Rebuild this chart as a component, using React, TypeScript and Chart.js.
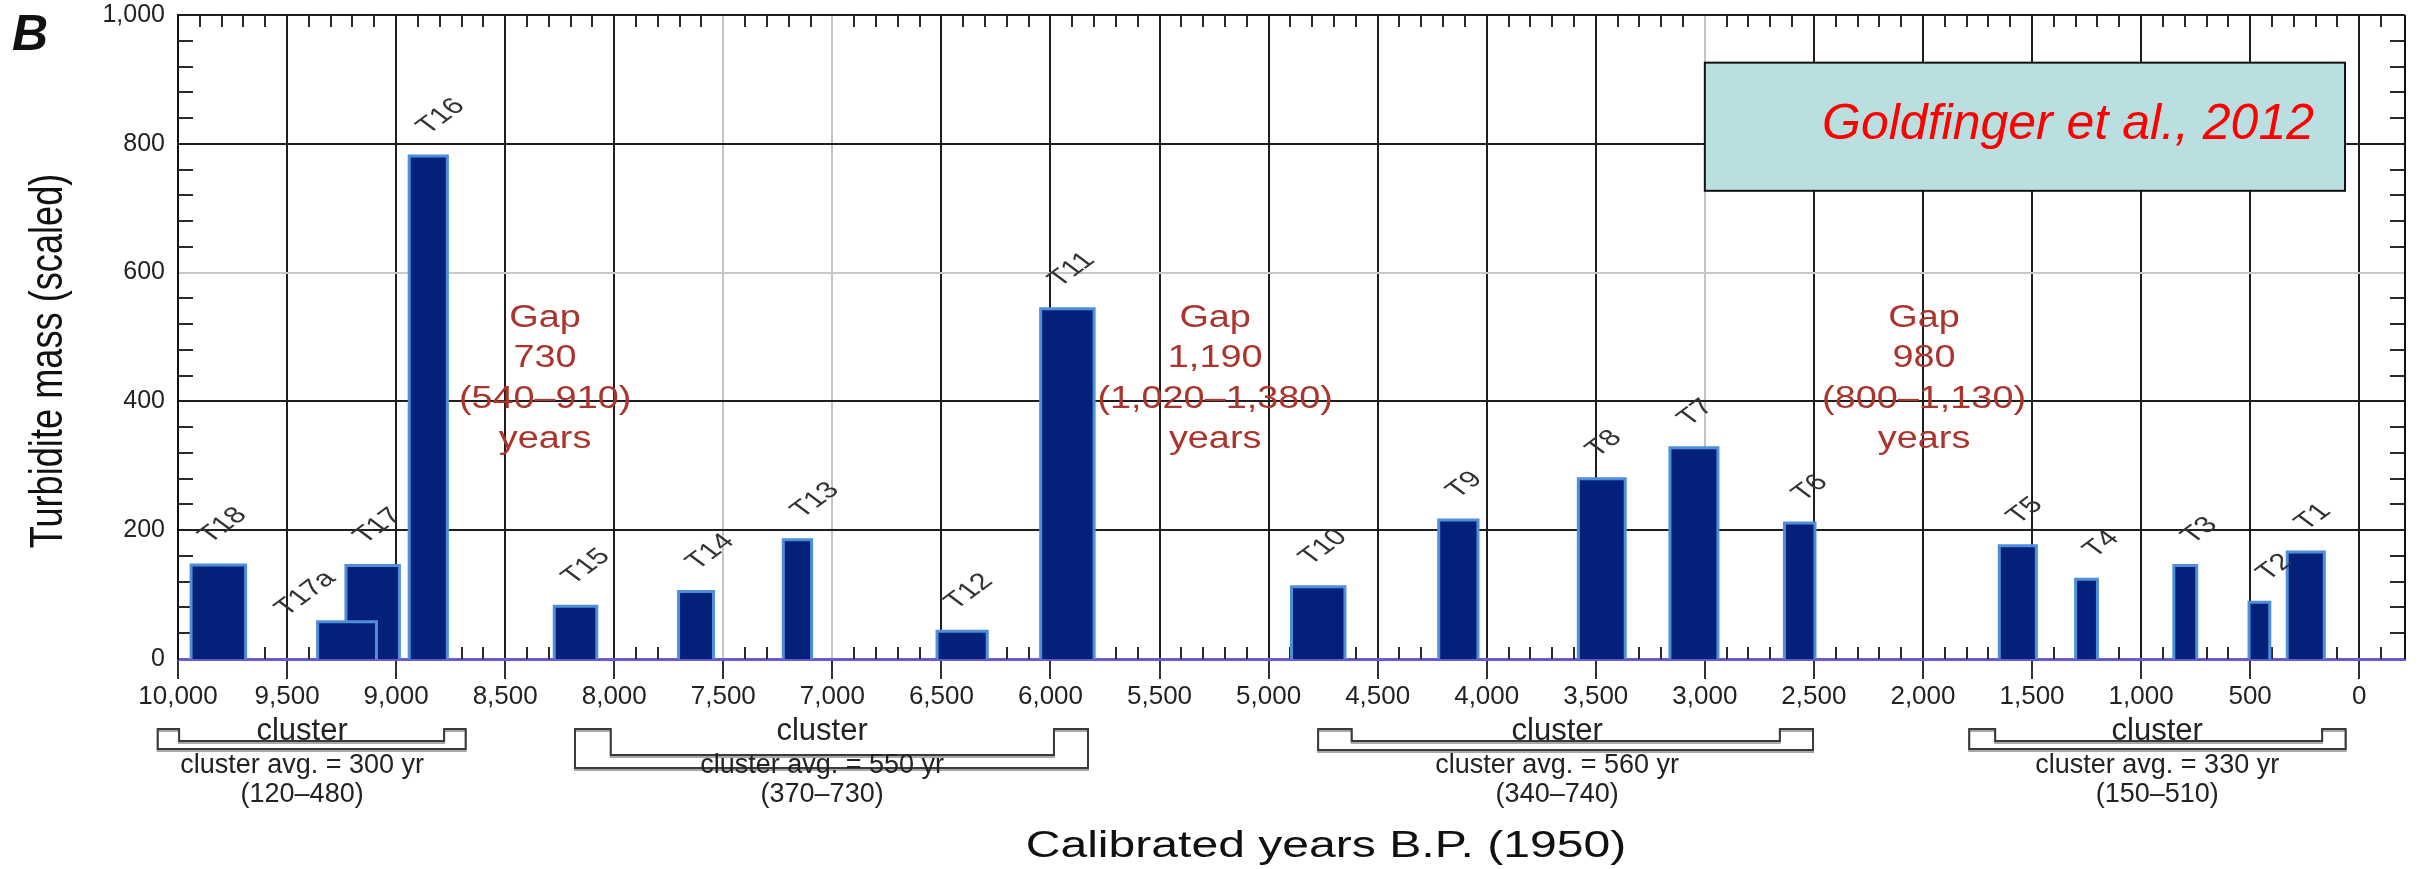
import React, { useEffect, useRef } from 'react';
import { Chart, registerables } from 'chart.js';

Chart.register(...registerables);

// ---- data (years before present, turbidite mass) ----
const eventLabels = ['T18', 'T17a', 'T17', 'T16', 'T15', 'T14', 'T13', 'T12', 'T11', 'T10', 'T9', 'T8', 'T7', 'T6', 'T5', 'T4', 'T3', 'T2', 'T1'];
const eventOlderEdge = [9940, 9360, 9230, 8940, 8275, 7705, 7225, 6520, 6045, 4895, 4220, 3580, 3160, 2635, 1650, 1300, 850, 505, 330];
const eventYoungerEdge = [9690, 9090, 8985, 8765, 8080, 7545, 7095, 6290, 5800, 4650, 4040, 3365, 2940, 2495, 1480, 1200, 745, 410, 160];
const eventMass = [146, 58, 145, 781, 82, 105, 185, 43, 544, 112, 216, 280, 328, 211, 176, 124, 145, 88, 166];

const xTickValues = [10000, 9500, 9000, 8500, 8000, 7500, 7000, 6500, 6000, 5500, 5000, 4500, 4000, 3500, 3000, 2500, 2000, 1500, 1000, 500, 0];
const yTickValues = [0, 200, 400, 600, 800, 1000];
const grayGridYears = [7500, 7000, 3000];
const grayGridMass = [600];

const gapCenters = [8317, 5245, 1995];
const gapValues = ['730', '1,190', '980'];
const gapRanges = ['(540–910)', '(1,020–1,380)', '(800–1,130)'];

const clusterOuterOld = [10093, 8180, 4773, 1788];
const clusterInnerOld = [9995, 8016, 4619, 1669];
const clusterInnerYoung = [8780, 5984, 2656, 170];
const clusterOuterYoung = [8681, 5828, 2504, 62];
const clusterTextCenters = [9431, 7047, 3677, 926];
const clusterAvgTexts = ['cluster avg. = 300 yr', 'cluster avg. = 550 yr', 'cluster avg. = 560 yr', 'cluster avg. = 330 yr'];
const clusterRangeTexts = ['(120–480)', '(370–730)', '(340–740)', '(150–510)'];

const sourceText = 'Goldfinger et al., 2012';
const panelLetter = 'B';
const yTitle = 'Turbidite mass (scaled)';
const xTitle = 'Calibrated years B.P. (1950)';

const FONT = '"Liberation Sans", Arial, Helvetica, sans-serif';

const decorPlugin = {
  id: 'decor',
  beforeDatasetsDraw(chart: any) {
    const { ctx, chartArea: a, scales } = chart;
    const xs = scales.x, ys = scales.y;
    ctx.save();
    ctx.strokeStyle = '#2a2a2a';
    ctx.lineWidth = 2;
    ctx.beginPath();
    for (let v = -100; v <= 9900; v += 100) {
      if (v % 500 === 0) continue;
      const px = Math.round(xs.getPixelForValue(v));
      ctx.moveTo(px, a.bottom);
      ctx.lineTo(px, a.bottom - 12);
      ctx.moveTo(px, a.top);
      ctx.lineTo(px, a.top + 12);
    }
    for (let v = 40; v < 1000; v += 40) {
      if (v % 200 === 0) continue;
      const py = Math.round(ys.getPixelForValue(v));
      ctx.moveTo(a.left, py);
      ctx.lineTo(a.left + 15, py);
      ctx.moveTo(a.right, py);
      ctx.lineTo(a.right - 15, py);
    }
    ctx.stroke();
    ctx.strokeStyle = '#111';
    ctx.beginPath();
    ctx.moveTo(a.right, a.top);
    ctx.lineTo(a.right, a.bottom);
    ctx.stroke();
    ctx.restore();
  },
  afterDatasetsDraw(chart: any) {
    const { ctx, scales } = chart;
    const xs = scales.x, ys = scales.y;
    ctx.save();
    // event labels, rotated
    ctx.fillStyle = '#333';
    ctx.font = `23px ${FONT}`;
    ctx.textAlign = 'left';
    ctx.textBaseline = 'alphabetic';
    eventLabels.forEach((lab, i) => {
      let ax = xs.getPixelForValue(eventOlderEdge[i]) + 19;
      let ay = ys.getPixelForValue(eventMass[i]) - 21;
      if (lab === 'T17a') { ax -= 50; ay += 16; }
      ctx.save();
      ctx.translate(ax, ay);
      ctx.scale(1.35, 1);
      ctx.rotate(-Math.PI / 4);
      ctx.fillText(lab, 0, 0);
      ctx.restore();
    });
    // gap annotations
    ctx.fillStyle = '#ab342c';
    ctx.font = `31px ${FONT}`;
    ctx.textAlign = 'center';
    gapCenters.forEach((c, i) => {
      const x = xs.getPixelForValue(c);
      const y0 = ys.getPixelForValue(516);
      const lines = ['Gap', gapValues[i], gapRanges[i], 'years'];
      lines.forEach((t, k) => {
        ctx.save();
        ctx.translate(x, y0 + k * 40.5);
        ctx.scale(1.22, 1);
        ctx.fillText(t, 0, 0);
        ctx.restore();
      });
    });
    // source box
    const bx1 = xs.getPixelForValue(3000);
    const bx2 = xs.getPixelForValue(65);
    const by1 = ys.getPixelForValue(926);
    const by2 = ys.getPixelForValue(727);
    ctx.fillStyle = '#b9dfe1';
    ctx.fillRect(bx1, by1, bx2 - bx1, by2 - by1);
    ctx.strokeStyle = '#111';
    ctx.lineWidth = 2;
    ctx.strokeRect(bx1, by1, bx2 - bx1, by2 - by1);
    ctx.fillStyle = '#ff0000';
    ctx.font = `italic 50px ${FONT}`;
    ctx.textAlign = 'right';
    ctx.fillText(sourceText, bx2 - 31, by1 + 76);
    ctx.restore();
  },
  afterDraw(chart: any) {
    const { ctx, chartArea: a, scales } = chart;
    const xs = scales.x;
    ctx.save();
    // panel letter
    ctx.fillStyle = '#111';
    ctx.font = `italic bold 50px ${FONT}`;
    ctx.textAlign = 'left';
    ctx.textBaseline = 'alphabetic';
    ctx.fillText(panelLetter, 12, 50);
    // y title
    ctx.save();
    ctx.translate(62, 361);
    ctx.rotate(-Math.PI / 2);
    ctx.scale(0.77, 1);
    ctx.font = `47px ${FONT}`;
    ctx.textAlign = 'center';
    ctx.fillText(yTitle, 0, 0);
    ctx.restore();
    // x title
    ctx.save();
    ctx.translate(1326, 857);
    ctx.scale(1.3, 1);
    ctx.font = `37px ${FONT}`;
    ctx.textAlign = 'center';
    ctx.fillText(xTitle, 0, 0);
    ctx.restore();
    // cluster brackets
    const depth = [[82, 90], [96, 109], [82, 91], [82, 90]];
    clusterOuterOld.forEach((_, i) => {
      const oL = xs.getPixelForValue(clusterOuterOld[i]);
      const iL = xs.getPixelForValue(clusterInnerOld[i]);
      const iR = xs.getPixelForValue(clusterInnerYoung[i]);
      const oR = xs.getPixelForValue(clusterOuterYoung[i]);
      const top = a.bottom + 70;
      const ib = a.bottom + depth[i][0];
      const ob = a.bottom + depth[i][1];
      const path = () => {
        ctx.beginPath();
        ctx.moveTo(oL, top);
        ctx.lineTo(iL, top);
        ctx.lineTo(iL, ib);
        ctx.lineTo(iR, ib);
        ctx.lineTo(iR, top);
        ctx.lineTo(oR, top);
        ctx.lineTo(oR, ob);
        ctx.lineTo(oL, ob);
        ctx.closePath();
      };
      ctx.save();
      ctx.translate(0, 2);
      path();
      ctx.strokeStyle = '#a8a8a8';
      ctx.lineWidth = 2;
      ctx.stroke();
      ctx.restore();
      path();
      ctx.strokeStyle = '#3a3a3a';
      ctx.lineWidth = 2;
      ctx.stroke();
      const cx = xs.getPixelForValue(clusterTextCenters[i]);
      ctx.fillStyle = '#222';
      ctx.textAlign = 'center';
      ctx.font = `31px ${FONT}`;
      ctx.fillText('cluster', cx, a.bottom + 81);
      ctx.font = `27px ${FONT}`;
      ctx.fillText(clusterAvgTexts[i], cx, a.bottom + 114);
      ctx.fillText(clusterRangeTexts[i], cx, a.bottom + 143);
    });
    ctx.restore();
  },
};

const zeroPad = (s: any) => {
  s.paddingTop = 0;
  s.paddingBottom = 0;
  s.paddingLeft = 0;
  s.paddingRight = 0;
};

export default function App() {
  const ref = useRef<HTMLCanvasElement>(null);
  useEffect(() => {
    const canvas = ref.current!;
    const datasets = eventLabels.map((lab, i) => ({
      label: lab,
      data: [
        { x: eventOlderEdge[i], y: 0 },
        { x: eventOlderEdge[i], y: eventMass[i] },
        { x: eventYoungerEdge[i], y: eventMass[i] },
        { x: eventYoungerEdge[i], y: 0 },
      ],
      showLine: true,
      fill: 'origin',
      backgroundColor: '#03207b',
      borderColor: '#4f8fda',
      borderWidth: 3,
      pointRadius: 0,
      tension: 0,
    }));
    const chart = new Chart(canvas, {
      type: 'scatter',
      data: { datasets },
      options: {
        animation: false,
        responsive: false,
        devicePixelRatio: 1,
        layout: { padding: { left: 0, top: 15, right: 15, bottom: 0 } },
        plugins: { legend: { display: false }, tooltip: { enabled: false } },
        events: [],
        scales: {
          x: {
            type: 'linear',
            reverse: true,
            min: -210,
            max: 10000,
            afterFit: (s: any) => { s.height = 210; zeroPad(s); },
            afterBuildTicks: (s: any) => { s.ticks = xTickValues.map((v) => ({ value: v })); },
            ticks: {
              autoSkip: false,
              maxRotation: 0,
              padding: 2,
              color: '#222',
              font: { family: FONT, size: 26 },
              callback: (v: any) => Number(v).toLocaleString('en-US'),
            },
            grid: {
              color: (c: any) => (grayGridYears.includes(c.tick?.value) ? '#c4c4c4' : '#1e1e1e'),
              lineWidth: 2,
              drawTicks: true,
              tickLength: 20,
              tickColor: '#333',
              tickWidth: 2,
            },
            border: { color: '#6a5cd0', width: 3 },
          },
          y: {
            min: 0,
            max: 1000,
            afterFit: (s: any) => { s.width = 178; zeroPad(s); },
            afterBuildTicks: (s: any) => { s.ticks = yTickValues.map((v) => ({ value: v })); },
            ticks: {
              padding: 13,
              color: '#222',
              font: { family: FONT, size: 25 },
              callback: (v: any) => Number(v).toLocaleString('en-US'),
            },
            grid: {
              color: (c: any) => {
                const v = c.tick?.value;
                if (v === 0) return 'rgba(0,0,0,0)';
                return grayGridMass.includes(v) ? '#c8c8c8' : '#1e1e1e';
              },
              lineWidth: 2,
              drawTicks: false,
            },
            border: { color: '#111', width: 2 },
          },
        },
      },
      plugins: [decorPlugin],
    } as any);
    return () => chart.destroy();
  }, []);
  return (
    <div style={{ position: 'absolute', left: 0, top: 0, width: 2420, height: 869, background: '#fff' }}>
      <canvas ref={ref} width={2420} height={869} style={{ display: 'block', width: 2420, height: 869 }} />
    </div>
  );
}
